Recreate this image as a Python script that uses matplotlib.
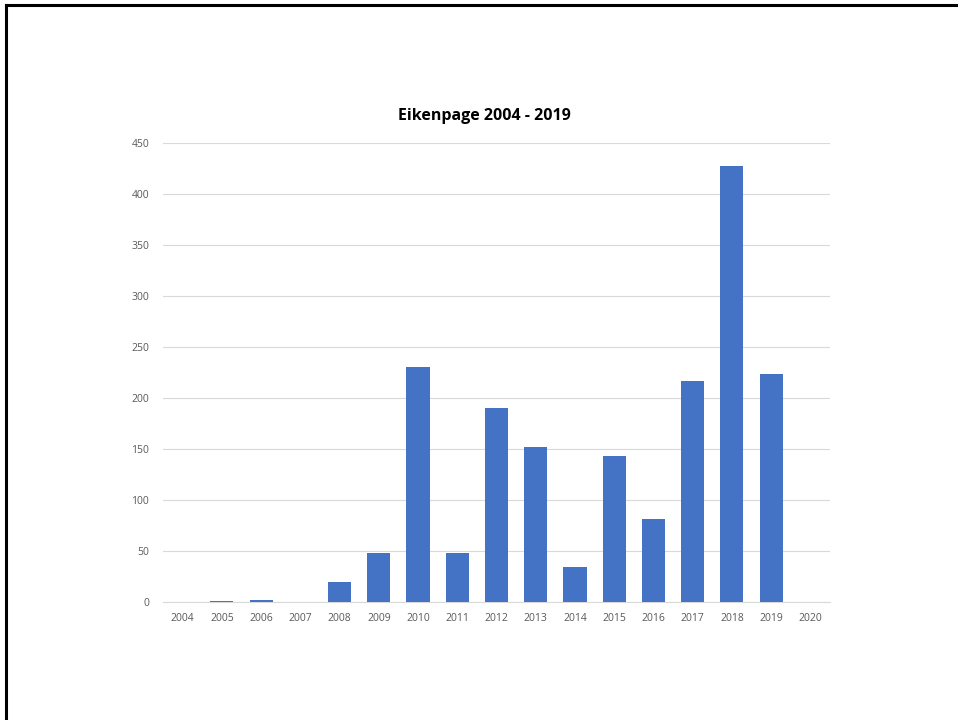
import matplotlib
matplotlib.use("Agg")
import matplotlib.pyplot as plt
from matplotlib.lines import Line2D

years = [str(y) for y in range(2004, 2021)]
values = [0, 1, 2, 0, 20, 48, 230, 48, 190, 152, 34, 143, 81, 217, 427, 224, 0]
title = "Eikenpage 2004 - 2019"
yticks = list(range(0, 451, 50))

plt.rcParams['font.family'] = ['Open Sans', 'DejaVu Sans']

fig = plt.figure(figsize=(9.58, 7.2), dpi=100)
ax = fig.add_axes([163/958, 1-602/720, (830-163)/958, (602-143)/720])

x = list(range(len(years)))
ax.bar(x, values, width=0.59, color='#4472C4', zorder=3)
ax.set_xlim(-0.5, len(years)-0.5)
ax.set_ylim(0, 450)
ax.set_yticks(yticks)
ax.set_xticks(x)
ax.set_xticklabels(years)
ax.tick_params(axis='both', length=0, labelsize=7.5, colors='#595959', pad=8)
ax.tick_params(axis='y', pad=10)
ax.grid(axis='y', color='#d9d9d9', linewidth=0.8, zorder=0)
for s in ['top', 'right', 'left']:
    ax.spines[s].set_visible(False)
ax.spines['bottom'].set_color('#d9d9d9')
ax.spines['bottom'].set_linewidth(0.8)

fig.text(484/958, 1-116/720, title, ha='center', va='center', fontsize=11.5,
         fontweight='bold', color='black')

# slide frame
fig.add_artist(Line2D([6/958, 1], [1-4.5/720, 1-4.5/720], transform=fig.transFigure, color='black', linewidth=2.2))
fig.add_artist(Line2D([6/958, 6/958], [0, 1-4.5/720], transform=fig.transFigure, color='black', linewidth=2.2))

fig.savefig('out.png', dpi=100)
